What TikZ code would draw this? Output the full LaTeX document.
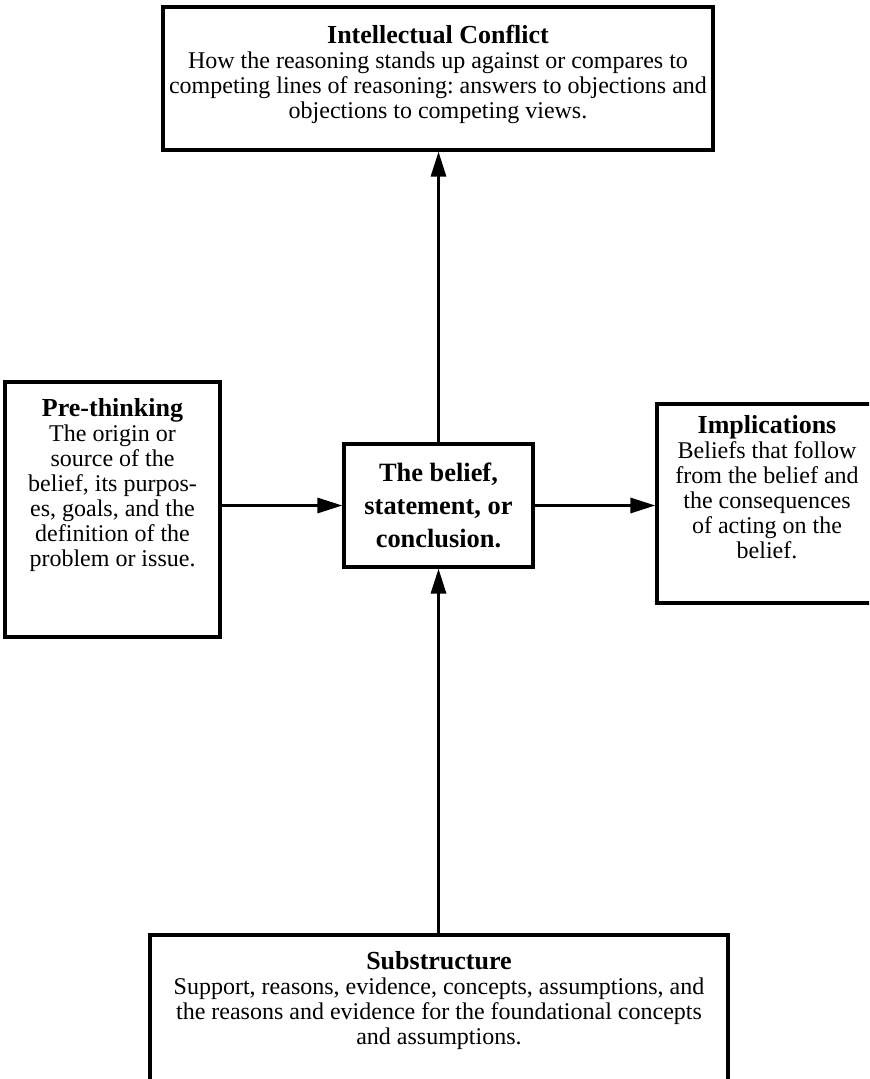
\documentclass[tikz,border=0pt]{standalone}
\usepackage{fontspec}
\setmainfont{Liberation Serif}
\usetikzlibrary{arrows.meta}
\frenchspacing
\newcommand\boxtitle[1]{{\fontsize{13}{16}\selectfont\bfseries #1\par}}
\newcommand\bodyfont{\fontsize{12}{12.5}\selectfont}
\tikzset{
  box/.style={draw, line width=1.6pt, inner sep=0pt, fill=white},
  arr/.style={line width=1.5pt, -{Triangle[length=12.5pt,width=7.5pt]}},
}
\begin{document}
\begin{tikzpicture}[x=0.5pt,y=-0.5pt]
\useasboundingbox (0,0) rectangle (869,1079);
\fill[white] (0,0) rectangle (869,1079);
\clip (0,0) rectangle (869,1079);
% Intellectual Conflict
\node[box] (ic) at (438,78.5) {\parbox[c][71.5pt][t]{275pt}{\centering\frenchspacing\vspace*{9.2pt}%
  \boxtitle{Intellectual Conflict}
  \bodyfont How the reasoning stands up against or compares to\\
  competing lines of reasoning: answers to objections and\\
  objections to competing views.\par}};
% Pre-thinking
\node[box] (pre) at (112.5,509.5) {\parbox[c][127.5pt][t]{107.5pt}{\centering\frenchspacing\vspace*{8.2pt}%
  \boxtitle{Pre-thinking}
  \bodyfont The origin or\\
  source of the\\
  belief, its purpos-\\
  es, goals, and the\\
  definition of the\\
  problem or issue.\par}};
% centre
\node[box] (mid) at (438.5,505.5) {\parbox[c][61.5pt][c]{94.5pt}{\centering\frenchspacing
  \fontsize{13.2}{16.5}\selectfont\bfseries The belief,\\ statement, or\\ conclusion.\par}};
% Implications
\node[box] (impl) at (767,503.5) {\parbox[c][99.5pt][t]{110pt}{\centering\frenchspacing\vspace*{5.7pt}%
  \boxtitle{Implications}
  \bodyfont Beliefs that follow\\
  from the belief and\\
  the consequences\\
  of acting on the\\
  belief.\par}};
% Substructure
\node[box] (sub) at (439,1017.5) {\parbox[c][82.5pt][t]{289pt}{\centering\frenchspacing\vspace*{8.2pt}%
  \boxtitle{Substructure}
  \bodyfont Support, reasons, evidence, concepts, assumptions, and\\
  the reasons and evidence for the foundational concepts\\
  and assumptions.\par}};
% connectors
\draw[arr] (pre.east |- mid.west) -- (mid.west);
\draw[arr] (mid.east) -- (mid.east -| impl.west);
\draw[arr] (sub.north -| mid.south) -- (mid.south);
\draw[arr] (mid.north) -- (mid.north |- ic.south);
\end{tikzpicture}
\end{document}
